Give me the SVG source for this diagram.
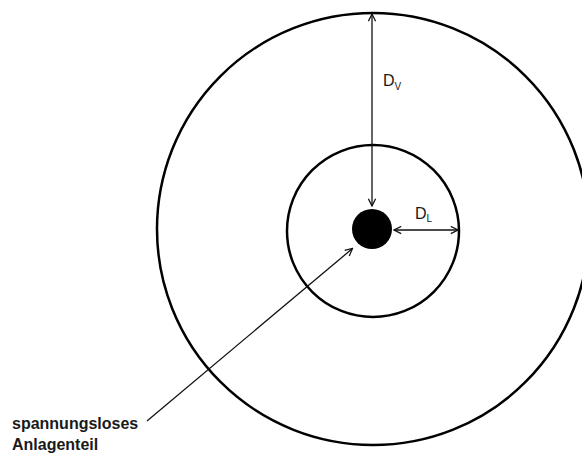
<svg xmlns="http://www.w3.org/2000/svg" width="582" height="455" viewBox="0 0 582 455">
<style>
.ring{fill:none;stroke:#000;stroke-width:2.5}
.arr{fill:none;stroke:#111;stroke-width:1.3}
.lbl{font-family:"Liberation Sans",Arial,sans-serif;fill:#1a1a1a}
.note{font-family:"Liberation Sans",Arial,sans-serif;font-weight:bold;font-size:16px;fill:#1a1a1a}
</style>
<defs>
<marker id="ah" viewBox="0 0 10 10" refX="9" refY="5" markerWidth="9" markerHeight="9" markerUnits="userSpaceOnUse" orient="auto-start-reverse">
<path d="M1,1 L9,5 L1,9" fill="none" stroke="#111" stroke-width="1.4"/>
</marker>
</defs>
<rect width="582" height="455" fill="#fff"/>
<g id="outer-zone"><circle class="ring" cx="373" cy="229" r="216"/></g>
<g id="inner-zone"><circle class="ring" cx="373" cy="231" r="86"/></g>
<g id="part"><circle cx="372" cy="229" r="20" fill="#000"/></g>
<g id="connectors">
<line class="arr" x1="372" y1="14" x2="372" y2="206" marker-start="url(#ah)" marker-end="url(#ah)"/>
<line class="arr" x1="394" y1="230" x2="458" y2="230" marker-start="url(#ah)" marker-end="url(#ah)"/>
<line class="arr" x1="147" y1="421" x2="352.5" y2="248.5" marker-end="url(#ah)"/>
</g>
<g id="label-dv"><text class="lbl" x="383" y="86" font-size="16">D<tspan font-size="10" dy="4">V</tspan></text></g>
<g id="label-dl"><text class="lbl" x="415" y="219" font-size="16">D<tspan font-size="10" dy="3">L</tspan></text></g>
<g id="label-part"><text class="note" x="12" y="429">spannungsloses</text><text class="note" x="12" y="450">Anlagenteil</text></g>
</svg>
